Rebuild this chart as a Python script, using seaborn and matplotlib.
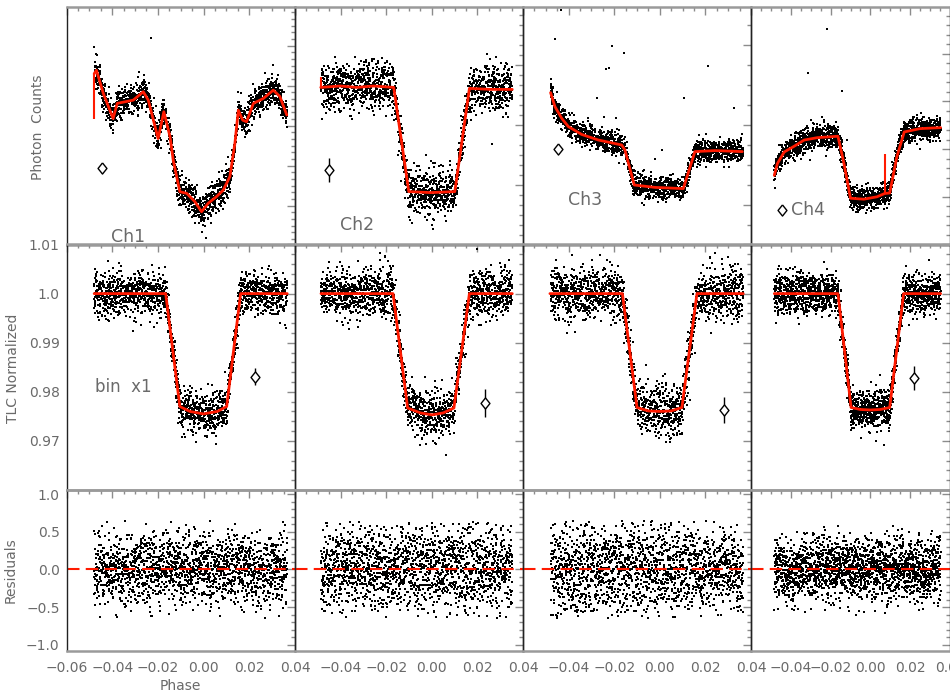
import numpy as np
import pandas as pd
import matplotlib
matplotlib.use("Agg")
import matplotlib.pyplot as plt
from matplotlib.ticker import MultipleLocator, AutoMinorLocator, NullFormatter
import seaborn as sns

sns.set_style("white")
plt.rcParams['font.family'] = ['DejaVu Sans']

# ---------------- data ----------------
channels = ["Ch1", "Ch2", "Ch3", "Ch4"]

# phase coverage of each channel's data
phase_start = [-0.0479, -0.0487, -0.0479, -0.0483]
phase_end = [0.0366, 0.0353, 0.0366, 0.0353]
n_points = [1800, 1800, 1800, 2000]

# Row 1: raw photon counts (arbitrary units per panel), fitted model
raw_model_x_ch1 = [-0.0479, -0.0469, -0.0439, -0.0396, -0.0378, -0.0308, -0.0264, -0.0242, -0.0199,
                   -0.0174, -0.0147, -0.0133, -0.0104, -0.0074, -0.0038, -0.0009, 0.0020, 0.0057,
                   0.0086, 0.0115, 0.0137, 0.0152, 0.0171, 0.0188, 0.0218, 0.0261, 0.0305, 0.0334, 0.0364]
raw_model_y_ch1 = [4.30, 4.39, 3.81, 3.18, 3.56, 3.64, 3.85, 3.64, 2.68,
                   3.35, 2.73, 2.14, 1.35, 1.31, 1.10, 0.85, 1.06, 1.23,
                   1.39, 1.73, 2.56, 3.39, 3.14, 3.10, 3.56, 3.68, 3.89, 3.73, 3.27]
raw_model_x_ch2 = [-0.0487, -0.0402, -0.0329, -0.0255, -0.0167, -0.0101, -0.0006, 0.0101, 0.0165, 0.0258, 0.0353]
raw_model_y_ch2 = [7.88, 7.95, 7.88, 7.95, 7.88, 2.67, 2.62, 2.67, 7.83, 7.78, 7.78]
raw_model_x_ch3 = [-0.0479, -0.0460, -0.0430, -0.0401, -0.0343, -0.0270, -0.0167, -0.0153, -0.0112,
                   -0.0021, 0.0103, 0.0154, 0.0242, 0.0362]
raw_model_y_ch3 = [5.62, 4.92, 4.33, 3.92, 3.53, 3.25, 3.00, 2.75, 1.00, 0.88, 0.82, 2.67, 2.72, 2.67]
raw_model_x_ch4 = [-0.0483, -0.0467, -0.0433, -0.0383, -0.0333, -0.0267, -0.0163, -0.0133, -0.0100,
                   -0.0033, 0.0033, 0.0072, 0.0097, 0.0133, 0.0170, 0.0250, 0.0353]
raw_model_y_ch4 = [1.45, 1.70, 1.94, 2.06, 2.19, 2.24, 2.27, 1.70, 0.97, 0.95, 1.00, 1.07, 1.08, 1.84,
                   2.36, 2.43, 2.45]
raw_sigma = [0.20, 0.58, 0.28, 0.12]
# short vertical glitches in the red model line: (phase, low, high)
raw_glitch = [(-0.0479, 3.18, 4.30), (-0.0487, 7.88, 8.38), None, (0.0072, 1.07, 1.90)]
raw_ylim = [(0.03, 5.97), (0.025, 11.9), (-1.975, 9.9), (0.0, 4.98)]
raw_major = [1, 3, 4, 1]
raw_minor = [6, 6, 4, 5]
raw_outlier_x = [[-0.0231, 0.0010],
                 [0.0262],
                 [-0.0433, -0.0460, -0.0211, -0.0156, -0.0237, -0.0223, -0.0277, -0.0243, -0.0192,
                  0.0008, -0.0021, 0.0106, 0.0213, 0.0324],
                 [-0.0217, -0.0315, -0.0142, -0.0242, -0.0120]]
raw_outlier_y = [[5.20, 0.20],
                 [5.05],
                 [9.75, 8.28, 7.95, 7.58, 6.78, 6.87, 5.37, 4.42, 4.33, 2.75, 2.28, 5.33, 6.95, 4.87],
                 [4.52, 3.60, 3.22, 2.68, 2.20]]
raw_err_x = [-0.0444, -0.0449, -0.0448, -0.0445]
raw_err_y = [1.95, 3.75, 2.78, 0.72]
raw_err = [0.12, 0.62, 0.17, 0.10]
raw_label_pos = [(-0.0331, 0.22, "center"), (-0.0328, 1.0, "center"), (-0.0328, 0.25, "center"), (-0.0397, 0.72, "left")]

# Row 2: normalized transit light curves
tlc_model_x = [[-0.0479, -0.0166, -0.0104, -0.0060, -0.0001, 0.0060, 0.0101, 0.0162, 0.0366],
               [-0.0486, -0.0170, -0.0106, -0.0050, 0.0001, 0.0050, 0.0097, 0.0165, 0.0353],
               [-0.0482, -0.0164, -0.0100, -0.0050, 0.0002, 0.0050, 0.0097, 0.0163, 0.0366],
               [-0.0483, -0.0163, -0.0097, -0.0050, 0.0000, 0.0050, 0.0097, 0.0167, 0.0353]]
tlc_model_y = [[1.0, 1.0, 0.9770, 0.9760, 0.9755, 0.9760, 0.9770, 1.0, 1.0],
               [1.0, 1.0, 0.9767, 0.9757, 0.9753, 0.9757, 0.9767, 1.0, 1.0],
               [1.0, 1.0, 0.9768, 0.9761, 0.9760, 0.9761, 0.9768, 1.0, 1.0],
               [1.0, 1.0, 0.9768, 0.9764, 0.9763, 0.9764, 0.9768, 1.0, 1.0]]
tlc_sigma = [0.0021, 0.0025, 0.0026, 0.0020]
tlc_err_x = [0.0225, 0.0233, 0.0280, 0.0217]
tlc_err_y = [0.9831, 0.9777, 0.9763, 0.9828]
tlc_err = [0.0017, 0.0029, 0.0026, 0.0024]
tlc_yticks = [0.97, 0.98, 0.99, 1.0, 1.01]
tlc_yticklabels = ["0.97", "0.98", "0.99", "1.0", "1.01"]

# Row 3: residuals
res_sigma = [0.24, 0.31, 0.32, 0.21]
res_limit = [0.66, 0.64, 0.65, 0.62]
res_yticks = [-1.0, -0.5, 0.0, 0.5, 1.0]
res_yticklabels = ["\u22121.0", "\u22120.5", "0.0", "0.5", "1.0"]

xticks = [-0.06, -0.04, -0.02, 0.00, 0.02, 0.04]
xticklabels = ["\u22120.06", "\u22120.04", "\u22120.02", "0.00", "0.02", "0.04"]

# ---------------- layout ----------------
W, H = 950, 700
col_left = [66.5, 295, 523, 751]
col_width = [228.5, 228, 228, 199]
row_top = [7, 244.5, 490]
row_bottom = [244.5, 490, 651]

RED = "#ff1a00"
GRAY_TXT = "#6a6a6a"
GRAY_AX = "#8c8c8c"
FS = 10
DOT = dict(color="black", s=3.2, marker="s", linewidth=0, legend=False, antialiased=False)
DIAMOND = [(0, 1), (0.8, 0), (0, -1), (-0.8, 0), (0, 1)]
ERR = dict(fmt="none", ecolor="black", elinewidth=1.0, capsize=0)
MK = dict(marker=DIAMOND, ms=8, mfc="white", mec="black", mew=1.0, ls="none")

fig = plt.figure(figsize=(9.5, 7), dpi=100)
# unreadable individual points of the noise clouds: deterministic seeded scatter around the read models
rng = np.random.default_rng(20240607)


def trunc_normal(n, sigma, lim):
    v = rng.normal(0, sigma, n)
    bad = np.abs(v) > lim
    while bad.any():
        v[bad] = rng.normal(0, sigma, bad.sum())
        bad = np.abs(v) > lim
    return v


def style_axis(ax):
    ax.set_xlim(-0.06, 0.04)
    ax.xaxis.set_major_locator(MultipleLocator(0.02))
    ax.xaxis.set_minor_locator(MultipleLocator(0.005))
    ax.tick_params(which="both", direction="in", top=True, right=True, color=GRAY_AX,
                   labelcolor=GRAY_TXT, labelsize=FS, width=1.0)
    ax.tick_params(which="major", length=6)
    ax.tick_params(which="minor", length=3)
    for s in ["top", "bottom"]:
        ax.spines[s].set_color("#9a9a9a")
        ax.spines[s].set_linewidth(1.8)
    for s in ["left", "right"]:
        ax.spines[s].set_color("#222222")
        ax.spines[s].set_linewidth(1.0)
    ax.set_xlabel("")
    ax.set_ylabel("")
    ax.patch.set_alpha(0)


def diamond_err(ax, x, y, e):
    ax.errorbar(x, y, yerr=e, **ERR)
    ax.plot([x], [y], **MK)


axes = {}
for r in range(3):
    for c in range(4):
        rect = [col_left[c] / W, 1 - row_bottom[r] / H, col_width[c] / W, (row_bottom[r] - row_top[r]) / H]
        axes[(r, c)] = fig.add_axes(rect)

raw_mx = [raw_model_x_ch1, raw_model_x_ch2, raw_model_x_ch3, raw_model_x_ch4]
raw_my = [raw_model_y_ch1, raw_model_y_ch2, raw_model_y_ch3, raw_model_y_ch4]

for c in range(4):
    ph = np.linspace(phase_start[c], phase_end[c], n_points[c])

    # ---- row 1 ----
    ax = axes[(0, c)]
    y = np.interp(ph, raw_mx[c], raw_my[c]) + rng.normal(0, raw_sigma[c], ph.size)
    df = pd.DataFrame({"phase": ph, "counts": y})
    sns.scatterplot(data=df, x="phase", y="counts", ax=ax, **DOT)
    out = pd.DataFrame({"phase": raw_outlier_x[c], "counts": raw_outlier_y[c]})
    sns.scatterplot(data=out, x="phase", y="counts", ax=ax, **DOT)
    mdf = pd.DataFrame({"phase": raw_mx[c], "counts": raw_my[c]})
    sns.lineplot(data=mdf, x="phase", y="counts", ax=ax, color=RED, lw=2.0, sort=False,
                 estimator=None)
    if raw_glitch[c] is not None:
        gx, g0, g1 = raw_glitch[c]
        ax.vlines(gx, g0, g1, color=RED, lw=1.5)
    diamond_err(ax, raw_err_x[c], raw_err_y[c], raw_err[c])
    lx, ly, ha = raw_label_pos[c]
    ax.text(lx, ly, channels[c], fontsize=12.5, color=GRAY_TXT, ha=ha, va="center")
    ax.set_ylim(*raw_ylim[c])
    ax.yaxis.set_major_locator(MultipleLocator(raw_major[c]))
    ax.yaxis.set_minor_locator(AutoMinorLocator(raw_minor[c]))
    style_axis(ax)
    ax.xaxis.set_major_formatter(NullFormatter())
    ax.yaxis.set_major_formatter(NullFormatter())

    # ---- row 2 ----
    ax = axes[(1, c)]
    y = np.interp(ph, tlc_model_x[c], tlc_model_y[c]) + rng.normal(0, tlc_sigma[c], ph.size)
    df = pd.DataFrame({"phase": ph, "flux": y})
    sns.scatterplot(data=df, x="phase", y="flux", ax=ax, **DOT)
    mdf = pd.DataFrame({"phase": tlc_model_x[c], "flux": tlc_model_y[c]})
    sns.lineplot(data=mdf, x="phase", y="flux", ax=ax, color=RED, lw=2.0, sort=False,
                 estimator=None)
    diamond_err(ax, tlc_err_x[c], tlc_err_y[c], tlc_err[c])
    ax.set_ylim(0.96, 1.01)
    ax.set_yticks(tlc_yticks)
    ax.yaxis.set_minor_locator(MultipleLocator(0.002))
    style_axis(ax)
    ax.xaxis.set_major_formatter(NullFormatter())
    if c == 0:
        ax.set_yticklabels(tlc_yticklabels)
        ax.text(-0.0475, 0.981, "bin  x1", fontsize=12, color=GRAY_TXT, ha="left", va="center")
    else:
        ax.yaxis.set_major_formatter(NullFormatter())

    # ---- row 3 ----
    ax = axes[(2, c)]
    rres = trunc_normal(ph.size, res_sigma[c], res_limit[c])
    df = pd.DataFrame({"phase": ph, "resid": rres})
    sns.scatterplot(data=df, x="phase", y="resid", ax=ax, **DOT)
    ax.axhline(0.0, color=RED, lw=1.5, ls=(0, (6, 3)))
    ax.set_ylim(-1.08, 1.053)
    ax.set_yticks(res_yticks)
    ax.yaxis.set_minor_locator(MultipleLocator(0.1))
    style_axis(ax)
    ax.set_xticks(xticks)
    if c == 0:
        ax.set_xticklabels(xticklabels)
        ax.set_yticklabels(res_yticklabels)
    else:
        ax.set_xticklabels([""] + xticklabels[1:])
        ax.yaxis.set_major_formatter(NullFormatter())
    ax.tick_params(axis="x", pad=7)

for r in range(3):
    axes[(r, 0)].tick_params(axis="y", pad=5)

fig.text(38 / W, 1 - 127 / H, "Photon  Counts", rotation=90, ha="center", va="center",
         fontsize=FS, color=GRAY_TXT)
fig.text(13 / W, 1 - 368 / H, "TLC Normalized", rotation=90, ha="center", va="center",
         fontsize=FS, color=GRAY_TXT)
fig.text(11 / W, 1 - 570 / H, "Residuals", rotation=90, ha="center", va="center",
         fontsize=FS, color=GRAY_TXT)
fig.text(180 / W, 1 - 686 / H, "Phase", ha="center", va="center", fontsize=FS, color=GRAY_TXT)

fig.savefig("out.png", dpi=100, facecolor="white")
